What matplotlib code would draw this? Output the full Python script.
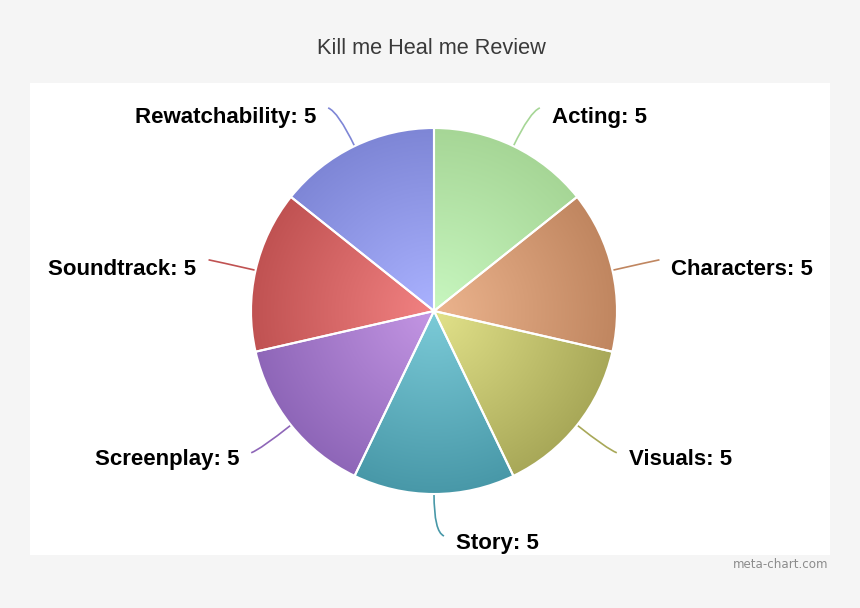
import numpy as np
import matplotlib
matplotlib.use('Agg')
import matplotlib.pyplot as plt
from matplotlib.patches import Rectangle, PathPatch
from matplotlib.path import Path
from matplotlib.colors import to_rgb

title = "Kill me Heal me Review"
categories = ["Acting", "Characters", "Visuals", "Story", "Screenplay", "Soundtrack", "Rewatchability"]
values = [5, 5, 5, 5, 5, 5, 5]
# light (centre) and dark (rim) shade of each slice
inner_colors = ["#c8f7c0", "#ecb48e", "#e2e28a", "#7ccbd8", "#c496e4", "#f28282", "#aab2ff"]
outer_colors = ["#a6d696", "#c08660", "#a8a858", "#4898a8", "#8e66b8", "#c05252", "#7e86d6"]

W, H = 860, 608
fig = plt.figure(figsize=(W / 100, H / 100), dpi=100, facecolor="#f5f5f5")
ax = fig.add_axes([0, 0, 1, 1])
ax.set_axis_off()

# everything is laid out in pixel units, y measured upwards
cx, cy, r = 434, H - 311, 183

ax.add_patch(Rectangle((30, H - 555), 800, 472, facecolor="white", edgecolor="none", zorder=0))

wedges, _ = ax.pie(values, startangle=90, counterclock=False, center=(cx, cy), radius=r,
                   colors=outer_colors, wedgeprops=dict(edgecolor="white", linewidth=1.5))

# radial gradient fill clipped to each wedge
n = 300
xx, yy = np.meshgrid(np.linspace(-1, 1, n), np.linspace(-1, 1, n))
t = np.clip(np.sqrt(xx ** 2 + yy ** 2), 0, 1)[..., None]
for w, ci, co in zip(wedges, inner_colors, outer_colors):
    img = np.array(to_rgb(ci)) * (1 - t) + np.array(to_rgb(co)) * t
    im = ax.imshow(img, extent=(cx - r, cx + r, cy - r, cy + r), origin="lower",
                   zorder=2, interpolation="bilinear")
    im.set_clip_path(w)
    w.set_facecolor("none")
    w.set_zorder(3)

# labels with curved connectors
total = sum(values)
start = 90.0
for cat, val, w, ci, co in zip(categories, values, wedges, inner_colors, outer_colors):
    mid = np.deg2rad(start - 360.0 * val / total / 2)
    start -= 360.0 * val / total
    dx, dy = np.cos(mid), np.sin(mid)
    side = 1 if dx > 1e-6 else (-1 if dx < -1e-6 else 1)
    p0 = (cx + r * dx, cy + r * dy)
    p1 = (cx + (r + 38) * dx, cy + (r + 38) * dy)
    p2 = (p1[0] + 10 * side, p1[1] + 4 * np.sign(dy) * (abs(dy) > 0.3) + 2 * (abs(dy) <= 0.3))
    path = Path([p0, p1, p2], [Path.MOVETO, Path.CURVE3, Path.CURVE3])
    ax.add_patch(PathPatch(path, facecolor="none", edgecolor=co, linewidth=1.2, zorder=2))
    ty = p2[1] - 7 - (3 if dy > 0 else 0)
    ax.text(p2[0] + 12 * side, ty, f"{cat}: {val}", ha="left" if side > 0 else "right",
            va="center", fontsize=16, fontweight="bold", family="Liberation Sans", color="black")

ax.text(431, H - 49, title, ha="center", va="center", fontsize=15.7, color="#3a3a3a",
        family="Liberation Sans")
ax.text(828, H - 564, "meta-chart.com", ha="right", va="center", fontsize=8.6, color="#8c8c8c",
        family="DejaVu Sans")

ax.set_xlim(0, W)
ax.set_ylim(0, H)
ax.set_aspect("equal")
fig.savefig("out.png", dpi=100, facecolor=fig.get_facecolor())
